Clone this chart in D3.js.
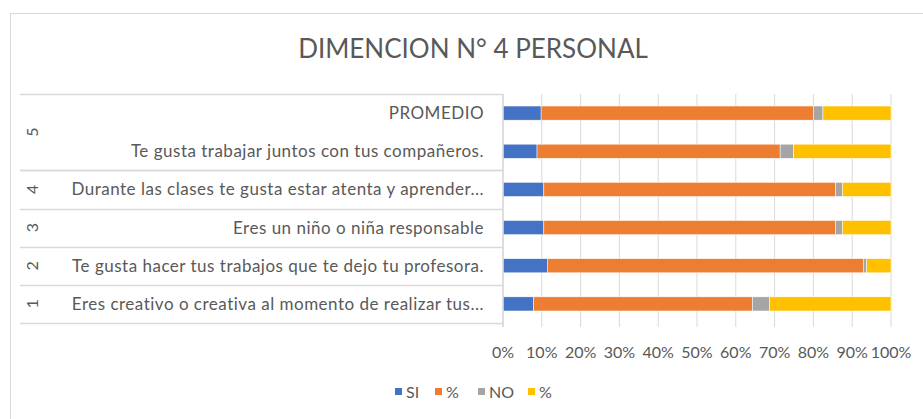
<!DOCTYPE html>
<html>
<head>
<meta charset="utf-8">
<script src="https://cdn.jsdelivr.net/npm/d3@7"></script>
<style>
  body { margin: 0; background: #fff; }
  text { font-family: Lato, "Open Sans", sans-serif; fill: #595959; }
</style>
</head>
<body>
<svg id="chart" width="923" height="419"></svg>
<script>
// data, bottom row first
const categories = [
  "Eres creativo o creativa al momento de realizar tus...",
  "Te gusta hacer tus trabajos que te dejo tu profesora.",
  "Eres un niño o niña responsable",
  "Durante las clases te gusta estar atenta y aprender...",
  "Te gusta trabajar juntos con tus compañeros.",
  "PROMEDIO"
];
const groups = ["1", "2", "3", "4", "5", "5"];
const siValues = [9, 13, 12, 12, 10, 11.2];
const siPct = [64.29, 92.86, 85.71, 85.71, 71.43, 80];
const noValues = [5, 1, 2, 2, 4, 2.8];
const noPct = [35.71, 7.14, 14.29, 14.29, 28.57, 20];
const seriesKeys = ["si", "siPct", "no", "noPct"];
const seriesNames = ["SI", "%", "NO", "%"];
const seriesColors = ["#4472C4", "#ED7D31", "#A5A5A5", "#FFC000"];
const xTickValues = [0, 0.1, 0.2, 0.3, 0.4, 0.5, 0.6, 0.7, 0.8, 0.9, 1];
const title = "DIMENCION N° 4 PERSONAL";

let plotLeft = 503, plotRight = 891, plotTop = 94, plotBottom = 323;

let rows = categories.map((c, i) => ({
  cat: c, group: groups[i],
  si: siValues[i], siPct: siPct[i], no: noValues[i], noPct: noPct[i]
}));

let svg = d3.select("#chart");

// chart border (runs off the picture to right and bottom)
svg.append("rect")
  .attr("x", 10.5).attr("y", 13.5)
  .attr("width", 940).attr("height", 440)
  .attr("fill", "none").attr("stroke", "#D9D9D9");

svg.append("text")
  .attr("x", 473).attr("y", 58)
  .attr("text-anchor", "middle")
  .style("font-size", "26px")
  .text(title);

let xScale = d3.scaleLinear().domain([0, 1]).range([plotLeft, plotRight]);

let yScale = d3.scaleBand()
  .domain(categories.slice().reverse())
  .range([plotTop, plotBottom])
  .paddingInner(0.63)
  .paddingOuter(0.315);

// gridlines
svg.append("g").selectAll("line").data(xTickValues).enter().append("line")
  .attr("x1", d => xScale(d)).attr("x2", d => xScale(d))
  .attr("y1", plotTop).attr("y2", plotBottom + 4)
  .attr("stroke", "#D9D9D9").attr("stroke-width", 1);

// x tick labels
svg.append("g").selectAll("text").data(xTickValues).enter().append("text")
  .attr("x", d => xScale(d)).attr("y", 358)
  .attr("text-anchor", "middle")
  .style("font-size", "16px")
  .text(d3.format(".0%"));

// stacked bars, 100%
let stack = d3.stack().keys(seriesKeys).offset(d3.stackOffsetExpand);
let layers = stack(rows);

svg.append("g").selectAll("g").data(layers).enter().append("g")
  .attr("fill", (d, i) => seriesColors[i])
  .selectAll("rect").data(d => d).enter().append("rect")
  .attr("x", d => xScale(d[0]))
  .attr("width", d => xScale(d[1]) - xScale(d[0]))
  .attr("y", d => yScale(d.data.cat))
  .attr("height", yScale.bandwidth())
  .attr("stroke", "#fff").attr("stroke-width", 0.5);

// multi level category axis
let slotTop = c => yScale(c) - (yScale.step() - yScale.bandwidth()) / 2;
let slotBottom = c => slotTop(c) + yScale.step();

let groupNames = Array.from(new Set(groups));
let groupSpans = groupNames.map(g => {
  let cats = rows.filter(r => r.group === g).map(r => r.cat);
  let ys = cats.map(slotTop).concat(cats.map(slotBottom));
  return {group: g, y0: d3.min(ys), y1: d3.max(ys)};
});

let sepY = Array.from(new Set(groupSpans.flatMap(s => [s.y0, s.y1])));
svg.append("g").selectAll("line").data(sepY).enter().append("line")
  .attr("x1", 20).attr("x2", plotLeft)
  .attr("y1", d => Math.round(d) + 0.5).attr("y2", d => Math.round(d) + 0.5)
  .attr("stroke", "#D9D9D9").attr("stroke-width", 1.5);

svg.append("line")
  .attr("x1", plotLeft).attr("x2", plotLeft)
  .attr("y1", plotTop).attr("y2", plotBottom + 4)
  .attr("stroke", "#D9D9D9").attr("stroke-width", 1.5);

svg.append("g").selectAll("text").data(rows).enter().append("text")
  .attr("x", 484)
  .attr("y", d => yScale(d.cat) + yScale.bandwidth() / 2)
  .attr("dy", "0.35em")
  .attr("text-anchor", "end")
  .style("font-size", "17px")
  .style("letter-spacing", "0.5px")
  .text(d => d.cat);

svg.append("g").selectAll("text").data(groupSpans).enter().append("text")
  .attr("transform", d => "translate(" + [32, (d.y0 + d.y1) / 2] + ") rotate(-90)")
  .attr("dy", "0.35em")
  .attr("text-anchor", "middle")
  .style("font-size", "16px")
  .text(d => d.group);

// legend
let legendX = [395, 435, 478, 528];
let legend = svg.append("g").selectAll("g").data(seriesNames).enter().append("g")
  .attr("transform", (d, i) => "translate(" + [legendX[i], 388] + ")");
legend.append("rect")
  .attr("width", 7).attr("height", 7)
  .attr("fill", (d, i) => seriesColors[i]);
legend.append("text")
  .attr("x", 11).attr("y", 4)
  .attr("dy", "0.35em")
  .style("font-size", "16px")
  .text(d => d);
</script>
</body>
</html>
